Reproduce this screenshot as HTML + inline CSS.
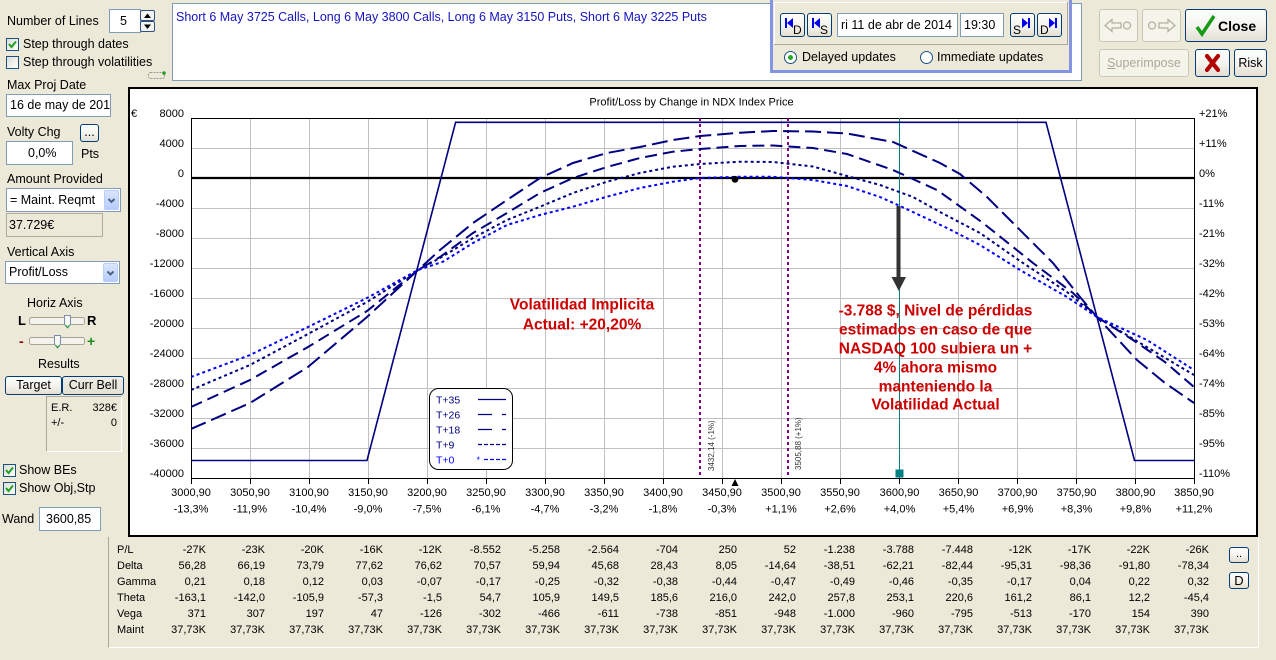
<!DOCTYPE html>
<html><head><meta charset="utf-8"><title>Profit/Loss</title>
<style>
*{box-sizing:border-box;margin:0;padding:0}
html,body{width:1276px;height:660px;overflow:hidden}
body{background:#ece9d8;position:relative;font-family:"Liberation Sans",sans-serif;font-size:12.5px;color:#000}
.a{position:absolute;white-space:nowrap;line-height:14px}
.in{position:absolute;background:#fff;border:1px solid #7f9db9;white-space:nowrap;overflow:hidden}
.cb{position:absolute;width:13px;height:13px;border:1px solid #1c5180;background:linear-gradient(135deg,#dcdcd7,#fff)}
.cb svg{position:absolute;left:0;top:0}
.btn{position:absolute;border:1px solid #003c74;border-radius:3px;background:linear-gradient(#fff,#f3f2ec 55%,#e2dfd2);text-align:center;white-space:nowrap}
.dis{border-color:#c9c7ba;background:#f5f4ea;color:#aca899}
.dd{position:absolute;background:linear-gradient(#dbe6fd,#b6ccf9);border:1px solid #b8cdfb;border-radius:2px}
.dd svg{position:absolute;left:0;top:0}
table{position:absolute;border-collapse:collapse;table-layout:fixed;font-size:11px;width:1092px}
td{padding:0;height:16px;line-height:16px;text-align:right;white-space:nowrap;overflow:visible}
td.l{text-align:left}
</style></head><body>

<!-- LEFT PANEL -->
<div class="a" style="left:7px;top:14px">Number of Lines</div>
<div class="in" style="left:109px;top:9px;width:32px;height:24px;line-height:22px;padding-left:10px">5</div>
<div style="position:absolute;left:140px;top:10px;width:15px;height:11px;border:1px solid #33507f;border-radius:2px;background:#f3f3f0"><svg width="13" height="9" style="position:absolute;left:0;top:0"><polygon points="3,7 6.5,2.5 10,7" fill="#000"/></svg></div>
<div style="position:absolute;left:140px;top:21px;width:15px;height:11px;border:1px solid #33507f;border-radius:2px;background:#f3f3f0"><svg width="13" height="9" style="position:absolute;left:0;top:0"><polygon points="3,2.5 6.5,7 10,2.5" fill="#000"/></svg></div>

<div class="cb" style="left:6px;top:38px"><svg width="11" height="11"><polyline points="2,5 4.5,8 9,2.5" fill="none" stroke="#21a121" stroke-width="2"/></svg></div>
<div class="a" style="left:23px;top:37px">Step through dates</div>
<div class="cb" style="left:6px;top:56px"></div>
<div class="a" style="left:23px;top:55px">Step through volatilities</div>
<svg style="position:absolute;left:146px;top:69px" width="22" height="14"><rect x="2.5" y="3.5" width="16" height="6" rx="2" fill="none" stroke="#9a9a94" stroke-dasharray="2 1"/><circle cx="18" cy="4" r="1.8" fill="#2a9a2a"/></svg>

<div class="a" style="left:7px;top:78px">Max Proj Date</div>
<div class="in" style="left:6px;top:94px;width:105px;height:23px;line-height:21px;padding-left:3px">16 de may de 2014</div>

<div class="a" style="left:7px;top:125px">Volty Chg</div>
<div class="btn" style="left:80px;top:124px;width:19px;height:18px;line-height:14px">...</div>
<div class="in" style="left:6px;top:141px;width:67px;height:24px;line-height:22px;padding-left:21px">0,0%</div>
<div class="a" style="left:81px;top:147px">Pts</div>

<div class="a" style="left:7px;top:172px">Amount Provided</div>
<div class="in" style="left:6px;top:188px;width:115px;height:24px;line-height:22px;padding-left:3px">= Maint. Reqmt</div>
<div class="dd" style="left:104px;top:190px;width:15px;height:20px"><svg width="13" height="18"><polyline points="3.5,8 6.5,11 9.5,8" fill="none" stroke="#4d6185" stroke-width="2"/></svg></div>
<div style="position:absolute;left:6px;top:213px;width:97px;height:24px;border:1px solid #b0ada0;line-height:22px;padding-left:2px">37.729€</div>

<div class="a" style="left:7px;top:245px">Vertical Axis</div>
<div class="in" style="left:5px;top:261px;width:115px;height:23px;line-height:21px;padding-left:3px">Profit/Loss</div>
<div class="dd" style="left:103px;top:263px;width:15px;height:19px"><svg width="13" height="17"><polyline points="3.5,7.5 6.5,10.5 9.5,7.5" fill="none" stroke="#4d6185" stroke-width="2"/></svg></div>

<div class="a" style="left:27px;top:296px">Horiz Axis</div>
<div class="a" style="left:18px;top:314px;font-weight:bold;font-size:13px">L</div>
<div class="a" style="left:87px;top:314px;font-weight:bold;font-size:13px">R</div>
<div class="a" style="left:19px;top:334px;font-weight:bold;font-size:14px;color:#8b0000">-</div>
<div class="a" style="left:87px;top:334px;font-weight:bold;font-size:14px;color:#1a8a1a">+</div>
<svg style="position:absolute;left:28px;top:314px" width="60" height="36">
<rect x="1.5" y="3.5" width="55" height="7" rx="2" fill="#f3f2ec" stroke="#a5a396"/>
<path d="M36.5,1.5 h6 v9 l-3,3.5 l-3,-3.5 z" fill="#f7f7f3" stroke="#7b8fa8"/>
<path d="M37.5,11 l2,2.5 l2,-2.5" fill="none" stroke="#21a121"/>
<rect x="1.5" y="23.5" width="55" height="7" rx="2" fill="#f3f2ec" stroke="#a5a396"/>
<path d="M26.5,21.5 h6 v9 l-3,3.5 l-3,-3.5 z" fill="#f7f7f3" stroke="#7b8fa8"/>
<path d="M27.5,31 l2,2.5 l2,-2.5" fill="none" stroke="#21a121"/>
</svg>

<div class="a" style="left:38px;top:357px">Results</div>
<div class="btn" style="left:5px;top:376px;width:57px;height:19px;line-height:17px">Target</div>
<div class="btn" style="left:62px;top:376px;width:62px;height:19px;line-height:17px;background:linear-gradient(#eeede6,#e3e0d3)">Curr Bell</div>
<div style="position:absolute;left:46px;top:396px;width:76px;height:56px;border-left:1px solid #aca899;border-top:1px solid #aca899;border-right:1px solid #fff;border-bottom:1px solid #fff"></div>
<div class="a" style="left:51px;top:401px;font-size:11px">E.R.</div>
<div class="a" style="left:77px;width:40px;text-align:right;top:401px;font-size:11px">328€</div>
<div class="a" style="left:51px;top:416px;font-size:11px">+/-</div>
<div class="a" style="left:77px;width:40px;text-align:right;top:416px;font-size:11px">0</div>

<div class="cb" style="left:3px;top:464px"><svg width="11" height="11"><polyline points="2,5 4.5,8 9,2.5" fill="none" stroke="#21a121" stroke-width="2"/></svg></div>
<div class="a" style="left:19px;top:463px">Show BEs</div>
<div class="cb" style="left:3px;top:482px"><svg width="11" height="11"><polyline points="2,5 4.5,8 9,2.5" fill="none" stroke="#21a121" stroke-width="2"/></svg></div>
<div class="a" style="left:19px;top:481px">Show Obj,Stp</div>
<div class="a" style="left:2px;top:512px">Wand</div>
<div class="in" style="left:39px;top:507px;width:62px;height:24px;line-height:22px;padding-left:6px">3600,85</div>

<!-- TOP STRATEGY BOX -->
<div class="in" style="left:172px;top:3px;width:910px;height:78px"></div>
<div class="a" style="left:176px;top:10px;color:#1414c0">Short 6 May 3725 Calls, Long 6 May 3800 Calls, Long 6 May 3150 Puts, Short 6 May 3225 Puts</div>

<!-- DATE PANEL -->
<div style="position:absolute;left:770px;top:-4px;width:302px;height:77px;border:3px solid #8494e2;background:#ece9d8"></div>
<div style="position:absolute;left:774px;top:2px;width:294px;height:43px;border-bottom:1px solid #aca899;border-right:1px solid #aca899;box-shadow:inset 1px 1px 0 #fff"></div>
<div class="btn" style="left:780px;top:13px;width:25px;height:24px"><svg width="23" height="22" style="position:absolute;left:0;top:0"><rect x="4" y="4" width="2" height="10" fill="#0000ee"/><polygon points="6,9 12,4 12,14" fill="#0000ee"/><text x="12" y="20" font-family="Liberation Sans" font-size="12">D</text></svg></div>
<div class="btn" style="left:807px;top:13px;width:25px;height:24px"><svg width="23" height="22" style="position:absolute;left:0;top:0"><rect x="4" y="4" width="2" height="10" fill="#0000ee"/><polygon points="6,9 12,4 12,14" fill="#0000ee"/><text x="12" y="20" font-family="Liberation Sans" font-size="12">S</text></svg></div>
<div class="in" style="left:837px;top:13px;width:121px;height:24px;line-height:22px;padding-left:3px">ri 11 de abr de 2014</div>
<div class="in" style="left:960px;top:13px;width:44px;height:24px;line-height:22px;padding-left:3px">19:30</div>
<div class="btn" style="left:1010px;top:13px;width:25px;height:24px"><svg width="23" height="22" style="position:absolute;left:0;top:0"><text x="2" y="20" font-family="Liberation Sans" font-size="12">S</text><polygon points="11,4 17,9 11,14" fill="#0000ee"/><rect x="17" y="4" width="2" height="10" fill="#0000ee"/></svg></div>
<div class="btn" style="left:1037px;top:13px;width:25px;height:24px"><svg width="23" height="22" style="position:absolute;left:0;top:0"><text x="2" y="20" font-family="Liberation Sans" font-size="12">D</text><polygon points="11,4 17,9 11,14" fill="#0000ee"/><rect x="17" y="4" width="2" height="10" fill="#0000ee"/></svg></div>
<svg style="position:absolute;left:782px;top:49px" width="160" height="18"><circle cx="8.5" cy="8.5" r="6" fill="#fff" stroke="#1c5180"/><circle cx="8.5" cy="8.5" r="2.5" fill="#2aa52a"/><circle cx="144.5" cy="8.5" r="6" fill="#fff" stroke="#1c5180"/></svg>
<div class="a" style="left:802px;top:50px">Delayed updates</div>
<div class="a" style="left:937px;top:50px">Immediate updates</div>

<!-- RIGHT BUTTONS -->
<div class="btn dis" style="left:1099px;top:9px;width:39px;height:33px"><svg width="37" height="31" style="position:absolute;left:0;top:0"><path d="M5,15.5 L12,9.5 V13 H21 V18 H12 V21.5 Z" fill="none" stroke="#b3b0a2" stroke-width="1.3"/><circle cx="27" cy="15.5" r="3.5" fill="none" stroke="#b3b0a2" stroke-width="1.3"/></svg></div>
<div class="btn dis" style="left:1142px;top:9px;width:39px;height:33px"><svg width="37" height="31" style="position:absolute;left:0;top:0"><circle cx="9" cy="15.5" r="3.5" fill="none" stroke="#b3b0a2" stroke-width="1.3"/><path d="M32,15.5 L25,9.5 V13 H16 V18 H25 V21.5 Z" fill="none" stroke="#b3b0a2" stroke-width="1.3"/></svg></div>
<div class="btn" style="left:1185px;top:9px;width:82px;height:33px"><svg width="80" height="31" style="position:absolute;left:0;top:0"><path d="M11,17 L16,24 L28,6" fill="none" stroke="#159a15" stroke-width="3.5"/><text x="32" y="21" font-family="Liberation Sans" font-size="14" font-weight="bold">Close</text></svg></div>
<div class="btn dis" style="left:1099px;top:49px;width:90px;height:28px;line-height:26px"><u>S</u>uperimpose</div>
<div class="btn" style="left:1195px;top:49px;width:35px;height:28px"><svg width="33" height="26" style="position:absolute;left:0;top:0"><path d="M11,6 L22,20 M22,6 L11,20" stroke="#b00000" stroke-width="4.2" stroke-linecap="round"/></svg></div>
<div class="btn" style="left:1234px;top:49px;width:33px;height:28px;line-height:26px">Risk</div>

<!-- CHART -->
<svg style="position:absolute;left:127px;top:86px" width="1132" height="452" viewBox="127 86 1132 452" font-family="Liberation Sans" font-size="11">
<defs><clipPath id="pc"><rect x="191" y="118" width="1004" height="360"/></clipPath></defs>
<rect x="129" y="88" width="1128" height="448" fill="#fff" stroke="#000" stroke-width="2"/>
<text x="691.5" y="105.5" text-anchor="middle">Profit/Loss by Change in NDX Index Price</text>
<text x="131" y="117">€</text>
<g stroke="#c0c0c0" stroke-width="1">
<path d="M250.5,118V478M309.5,118V478M368.5,118V478M427.5,118V478M486.5,118V478M545.5,118V478M604.5,118V478M663.5,118V478M722.5,118V478M781.5,118V478M840.5,118V478M899.5,118V478M958.5,118V478M1017.5,118V478M1076.5,118V478M1135.5,118V478"/>
<path d="M191,148.5H1195M191,208.5H1195M191,238.5H1195M191,268.5H1195M191,298.5H1195M191,328.5H1195M191,358.5H1195M191,388.5H1195M191,418.5H1195M191,448.5H1195"/>
</g>
<rect x="191.5" y="118.5" width="1003" height="360" fill="none" stroke="#000"/>
<path d="M191,178H1195" stroke="#000" stroke-width="2.2"/>
<g stroke="#000"><path d="M191.5,478V484M250.5,478V484M309.5,478V484M368.5,478V484M427.5,478V484M486.5,478V484M545.5,478V484M604.5,478V484M663.5,478V484M722.5,478V484M781.5,478V484M840.5,478V484M899.5,478V484M958.5,478V484M1017.5,478V484M1076.5,478V484M1135.5,478V484M1194.5,478V484"/></g>

<g text-anchor="end">
<text x="184" y="117">8000</text><text x="184" y="147">4000</text><text x="184" y="177">0</text><text x="184" y="207">-4000</text><text x="184" y="237">-8000</text><text x="184" y="267">-12000</text><text x="184" y="297">-16000</text><text x="184" y="327">-20000</text><text x="184" y="357">-24000</text><text x="184" y="387">-28000</text><text x="184" y="417">-32000</text><text x="184" y="447">-36000</text><text x="184" y="477">-40000</text>
</g>
<g>
<text x="1199" y="117">+21%</text><text x="1199" y="147">+11%</text><text x="1199" y="177">0%</text><text x="1199" y="207">-11%</text><text x="1199" y="237">-21%</text><text x="1199" y="267">-32%</text><text x="1199" y="297">-42%</text><text x="1199" y="327">-53%</text><text x="1199" y="357">-64%</text><text x="1199" y="387">-74%</text><text x="1199" y="417">-85%</text><text x="1199" y="447">-95%</text><text x="1199" y="477">-110%</text>
</g>
<g text-anchor="middle">
<text x="191" y="496">3000,90</text><text x="250" y="496">3050,90</text><text x="309" y="496">3100,90</text><text x="368" y="496">3150,90</text><text x="427" y="496">3200,90</text><text x="486" y="496">3250,90</text><text x="545" y="496">3300,90</text><text x="604" y="496">3350,90</text><text x="663" y="496">3400,90</text><text x="722" y="496">3450,90</text><text x="781" y="496">3500,90</text><text x="840" y="496">3550,90</text><text x="899.5" y="496">3600,90</text><text x="958.5" y="496">3650,90</text><text x="1017.5" y="496">3700,90</text><text x="1076.5" y="496">3750,90</text><text x="1135.5" y="496">3800,90</text><text x="1194" y="496">3850,90</text>
<text x="191" y="512.5">-13,3%</text><text x="250" y="512.5">-11,9%</text><text x="309" y="512.5">-10,4%</text><text x="368" y="512.5">-9,0%</text><text x="427" y="512.5">-7,5%</text><text x="486" y="512.5">-6,1%</text><text x="545" y="512.5">-4,7%</text><text x="604" y="512.5">-3,2%</text><text x="663" y="512.5">-1,8%</text><text x="722" y="512.5">-0,3%</text><text x="781" y="512.5">+1,1%</text><text x="840" y="512.5">+2,6%</text><text x="899.5" y="512.5">+4,0%</text><text x="958.5" y="512.5">+5,4%</text><text x="1017.5" y="512.5">+6,9%</text><text x="1076.5" y="512.5">+8,3%</text><text x="1135.5" y="512.5">+9,8%</text><text x="1194" y="512.5">+11,2%</text>
</g>

<!-- vertical markers -->
<path d="M700,118V478M788,118V478" stroke="#800080" stroke-width="2" stroke-dasharray="3 3"/>
<text x="714" y="471" font-size="8" fill="#333" transform="rotate(-90 714 471)">3432,14 (-1%)</text>
<text x="801" y="470" font-size="8" fill="#333" transform="rotate(-90 801 470)">3505,88 (+1%)</text>
<path d="M899.5,118V478" stroke="#008080" stroke-width="1"/>

<g clip-path="url(#pc)" fill="none">
<path d="M191,460.5 L367,460.5 L455.6,122.3 L1046,122.3 L1134.5,460.5 L1195,460.5" stroke="#000080" stroke-width="1.6"/>
<polyline stroke="#000080" stroke-width="2" stroke-dasharray="16 6" points="191,429 250,403 308,367 367,317 418,270 440,250 473,223 507,200 540,178 573,163 607,153 640,147 673,140 700,136 740,132.7 773,131 813,131.5 847,133.5 893,142 940,163 960,174 987,197 1007,217 1030,240 1053,263 1080,297 1097,317 1137,360 1165,383 1194,403"/>
<polyline stroke="#000080" stroke-width="2" stroke-dasharray="12 6" points="191,407 250,380 308,347 367,311 418,270 440,257 473,233 507,213 540,193 573,178 607,167 640,158 673,151.7 700,149 740,146 773,145.5 813,148 847,154 893,170 937,190 983,223 1033,263 1073,293 1097,317 1133,340 1165,362 1194,387"/>
<polyline stroke="#000080" stroke-width="2" stroke-dasharray="3 3" points="191,390 250,365 308,334 367,302 418,270 440,258 473,238 507,220 540,206.7 573,193 607,181.7 640,173 673,166.7 700,164 740,161.7 773,162 813,166.5 847,176 880,185 913,197 940,212 980,233 1020,261 1067,292 1097,317 1140,343 1194,375"/>
<polyline stroke="#0000ff" stroke-width="2" stroke-dasharray="3 3" points="191,377 250,355 308,327 367,298 418,270 443,261.7 473,243 507,225 540,215 573,206.7 607,196.7 640,188 673,181.7 700,178 740,176.7 773,176.8 813,180 847,186 880,197 900,206 947,228 980,245 1020,270 1067,297 1097,317 1147,340 1194,370"/>
</g>

<circle cx="735" cy="179.3" r="3.4" fill="#000"/>
<polygon points="735,479 731.5,486 738.5,486" fill="#000"/>
<rect x="895.5" y="469.5" width="8" height="8" fill="#008080"/>
<rect x="896.5" y="206" width="4" height="72" fill="#333"/>
<polygon points="891.5,277 906,277 898.8,291" fill="#333"/>

<!-- annotations -->
<g font-weight="bold" font-size="15.5" fill="#cc0000" text-anchor="middle">
<text x="582" y="309.6">Volatilidad Implicita</text>
<text x="582" y="329.6">Actual: +20,20%</text>
<text x="935.5" y="315.6">-3.788 $, Nivel de pérdidas</text>
<text x="935.5" y="334.6">estimados en caso de que</text>
<text x="935.5" y="353.6">NASDAQ 100 subiera un +</text>
<text x="935.5" y="372.3">4% ahora mismo</text>
<text x="935.5" y="391.6">manteniendo la</text>
<text x="935.5" y="409.6">Volatilidad Actual</text>
</g>

<!-- legend -->
<rect x="429.5" y="388.5" width="83" height="81" rx="9" fill="#fff" stroke="#000"/>
<g font-size="10.5" fill="#000080">
<text x="436" y="403.3">T+35</text><text x="436" y="418.3">T+26</text><text x="436" y="433.3">T+18</text><text x="436" y="448.3">T+9</text><text x="436" y="463.3" fill="#0000ff">T+0</text>
</g>
<path d="M478,399.5H506" stroke="#000080" stroke-width="1.3"/>
<path d="M478,414.5H492M502,414.5H506M478,429.5H492M502,429.5H506" stroke="#000080" stroke-width="1.3"/>
<path d="M478,444.5H506" stroke="#000080" stroke-width="1.2" stroke-dasharray="4 2"/>
<text x="476.5" y="463" font-size="9" fill="#0000ff">*</text>
<path d="M484,459.5H506" stroke="#0000ff" stroke-width="1.2" stroke-dasharray="4 2"/>
</svg>

<!-- TABLE PANEL -->
<div style="position:absolute;left:108px;top:537px;width:1151px;height:111px;border-left:1px solid #aca899;border-right:1px solid #fff;border-bottom:1px solid #fff"></div>
<table style="left:117px;top:542px">
<colgroup><col style="width:30px"><col style="width:59px"><col style="width:59px"><col style="width:59px"><col style="width:59px"><col style="width:59px"><col style="width:59px"><col style="width:59px"><col style="width:59px"><col style="width:59px"><col style="width:59px"><col style="width:59px"><col style="width:59px"><col style="width:59px"><col style="width:59px"><col style="width:59px"><col style="width:59px"><col style="width:59px"><col style="width:59px"></colgroup>
<tr><td class="l">P/L</td><td>-27K</td><td>-23K</td><td>-20K</td><td>-16K</td><td>-12K</td><td>-8.552</td><td>-5.258</td><td>-2.564</td><td>-704</td><td>250</td><td>52</td><td>-1.238</td><td>-3.788</td><td>-7.448</td><td>-12K</td><td>-17K</td><td>-22K</td><td>-26K</td></tr>
<tr><td class="l">Delta</td><td>56,28</td><td>66,19</td><td>73,79</td><td>77,62</td><td>76,62</td><td>70,57</td><td>59,94</td><td>45,68</td><td>28,43</td><td>8,05</td><td>-14,64</td><td>-38,51</td><td>-62,21</td><td>-82,44</td><td>-95,31</td><td>-98,36</td><td>-91,80</td><td>-78,34</td></tr>
<tr><td class="l">Gamma</td><td>0,21</td><td>0,18</td><td>0,12</td><td>0,03</td><td>-0,07</td><td>-0,17</td><td>-0,25</td><td>-0,32</td><td>-0,38</td><td>-0,44</td><td>-0,47</td><td>-0,49</td><td>-0,46</td><td>-0,35</td><td>-0,17</td><td>0,04</td><td>0,22</td><td>0,32</td></tr>
<tr><td class="l">Theta</td><td>-163,1</td><td>-142,0</td><td>-105,9</td><td>-57,3</td><td>-1,5</td><td>54,7</td><td>105,9</td><td>149,5</td><td>185,6</td><td>216,0</td><td>242,0</td><td>257,8</td><td>253,1</td><td>220,6</td><td>161,2</td><td>86,1</td><td>12,2</td><td>-45,4</td></tr>
<tr><td class="l">Vega</td><td>371</td><td>307</td><td>197</td><td>47</td><td>-126</td><td>-302</td><td>-466</td><td>-611</td><td>-738</td><td>-851</td><td>-948</td><td>-1.000</td><td>-960</td><td>-795</td><td>-513</td><td>-170</td><td>154</td><td>390</td></tr>
<tr><td class="l">Maint</td><td>37,73K</td><td>37,73K</td><td>37,73K</td><td>37,73K</td><td>37,73K</td><td>37,73K</td><td>37,73K</td><td>37,73K</td><td>37,73K</td><td>37,73K</td><td>37,73K</td><td>37,73K</td><td>37,73K</td><td>37,73K</td><td>37,73K</td><td>37,73K</td><td>37,73K</td><td>37,73K</td></tr>
</table>
<div class="btn" style="left:1229px;top:547px;width:20px;height:16px;line-height:12px;font-size:11px">..</div>
<div class="btn" style="left:1229px;top:572px;width:20px;height:17px;line-height:15px;font-size:13px">D</div>

</body></html>
